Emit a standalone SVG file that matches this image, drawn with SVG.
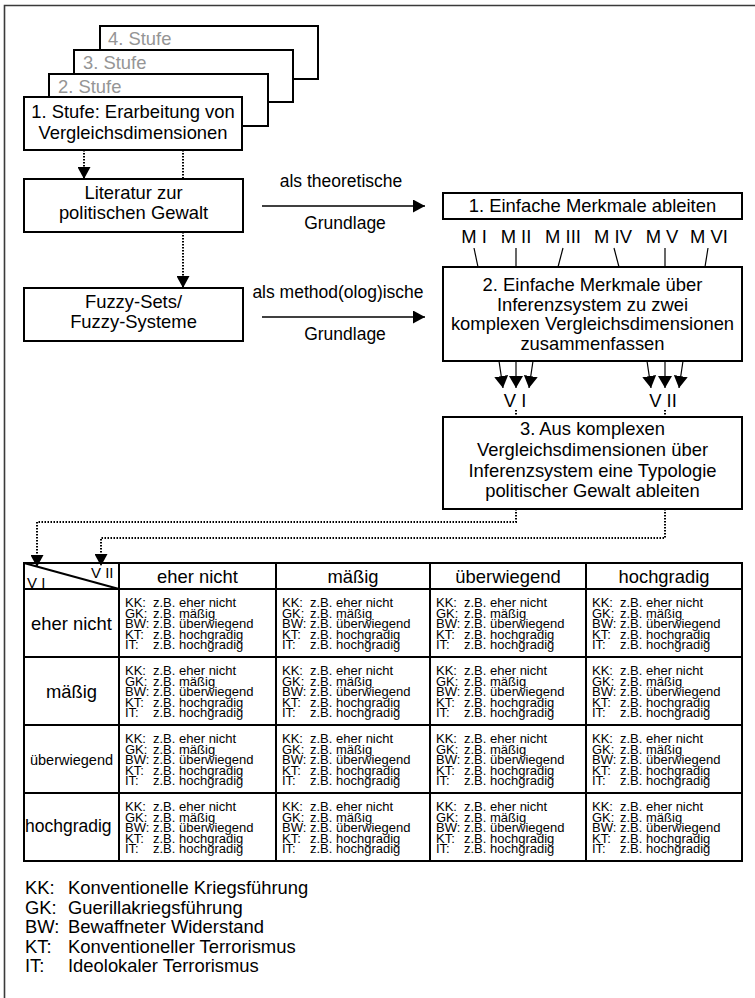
<svg xmlns="http://www.w3.org/2000/svg" width="755" height="998" viewBox="0 0 755 998">
<defs>
<marker id="ah" viewBox="0 0 12 13" refX="12" refY="6.5" markerWidth="12" markerHeight="13" markerUnits="userSpaceOnUse" orient="auto"><path d="M0,0 L12,6.5 L0,13 z" fill="#000"/></marker>
<marker id="ahv" viewBox="0 0 12 14" refX="12" refY="7" markerWidth="12" markerHeight="14" markerUnits="userSpaceOnUse" orient="auto"><path d="M0,0 L12,7 L0,14 z" fill="#000"/></marker>
<style>
text { font-family: "Liberation Sans", Arial, Helvetica, sans-serif; fill:#000; font-size:18.4px; }
.box { fill:#fff; stroke:#000; stroke-width:2; }
.c { text-anchor:middle; }
.gray { fill:#959595; }
.lbl { font-size:17.5px; text-anchor:middle; }
.dot { fill:none; stroke:#000; stroke-width:2; stroke-dasharray:1.5 1.5; }
.solid { fill:none; stroke:#000; stroke-width:1.5; }
.thin { fill:none; stroke:#000; stroke-width:1.2; }
.grid { fill:none; stroke:#000; stroke-width:2; }
.cell text { font-size:13px; }
.vv { font-size:15px; }
</style>
</defs>
<rect x="0" y="0" width="755" height="998" fill="#fff"/>
<path d="M4.5,998 L4.5,5.5 L755,5.5" fill="none" stroke="#3a3a3a" stroke-width="1.6"/>

<g id="stufe4"><rect class="box" x="100" y="26" width="218" height="53"/><text class="gray" x="108" y="45">4. Stufe</text></g>
<g id="stufe3"><rect class="box" x="74" y="50" width="219" height="52"/><text class="gray" x="83" y="69">3. Stufe</text></g>
<g id="stufe2"><rect class="box" x="49" y="74" width="219" height="52"/><text class="gray" x="58" y="93">2. Stufe</text></g>
<g id="stufe1"><rect class="box" x="24" y="97" width="218" height="53"/><text class="c" x="133" y="118">1. Stufe: Erarbeitung von</text><text class="c" x="133" y="139">Vergleichsdimensionen</text></g>

<g id="literatur"><rect class="box" x="24" y="179" width="219" height="53"/><text class="c" x="133.5" y="199">Literatur zur</text><text class="c" x="133.5" y="219">politischen Gewalt</text></g>
<g id="fuzzy"><rect class="box" x="24" y="288" width="219" height="53"/><text class="c" x="133.5" y="308">Fuzzy-Sets/</text><text class="c" x="133.5" y="328">Fuzzy-Systeme</text></g>

<g id="merkmale"><rect class="box" x="443" y="193" width="299" height="26"/><text class="c" x="592.5" y="212">1. Einfache Merkmale ableiten</text></g>
<g id="mlabels">
<text class="c" x="474" y="243">M I</text>
<text class="c" x="516" y="243">M II</text>
<text class="c" x="563" y="243">M III</text>
<text class="c" x="613" y="243">M IV</text>
<text class="c" x="662" y="243">M V</text>
<text class="c" x="709" y="243">M VI</text>
</g>
<g id="inferenz"><rect class="box" x="443" y="267" width="299" height="94"/>
<text class="c" x="592.5" y="291">2. Einfache Merkmale über</text>
<text class="c" x="592.5" y="310.5">Inferenzsystem zu zwei</text>
<text class="c" x="592.5" y="330">komplexen Vergleichsdimensionen</text>
<text class="c" x="592.5" y="349.5">zusammenfassen</text></g>
<g id="vlabels"><text class="c" x="515" y="407">V I</text><text class="c" x="663" y="407">V II</text></g>
<g id="typologie"><rect class="box" x="443" y="417" width="299" height="92"/>
<text class="c" x="592.5" y="435">3. Aus komplexen</text>
<text class="c" x="592.5" y="456">Vergleichsdimensionen über</text>
<text class="c" x="592.5" y="477">Inferenzsystem eine Typologie</text>
<text class="c" x="592.5" y="497">politischer Gewalt ableiten</text></g>

<g id="connectors">
<path class="dot" d="M84,150 L84,179" marker-end="url(#ah)"/>
<path class="dot" d="M183,150 L183,179"/>
<path class="dot" d="M183,232 L183,288" marker-end="url(#ah)"/>
<path class="solid" d="M262,206 L425,206" marker-end="url(#ah)"/>
<text class="lbl" x="341" y="187">als theoretische</text>
<text class="lbl" x="345" y="229">Grundlage</text>
<path class="solid" d="M262,317 L425,317" marker-end="url(#ah)"/>
<text class="lbl" x="338" y="298">als method(olog)ische</text>
<text class="lbl" x="345" y="340">Grundlage</text>
<path class="thin" d="M474,248 L478,267"/>
<path class="thin" d="M516,248 L516,267"/>
<path class="thin" d="M563,248 L558,267"/>
<path class="thin" d="M614,248 L619,267"/>
<path class="thin" d="M665,248 L665,267"/>
<path class="thin" d="M708,248 L705,267"/>
<path class="thin" d="M499,361 L503,388" marker-end="url(#ahv)"/>
<path class="thin" d="M516,361 L516,388" marker-end="url(#ahv)"/>
<path class="thin" d="M533,361 L529,388" marker-end="url(#ahv)"/>
<path class="thin" d="M647,361 L651,388" marker-end="url(#ahv)"/>
<path class="thin" d="M665,361 L665,388" marker-end="url(#ahv)"/>
<path class="thin" d="M683,361 L679,388" marker-end="url(#ahv)"/>
<path class="dot" d="M516,410 L516,417"/>
<path class="dot" d="M665,410 L665,417"/>
<path class="dot" d="M516,509 L516,522 L37,522 L37,567" marker-end="url(#ah)"/>
<path class="dot" d="M665,509 L665,538 L101,538 L101,566" marker-end="url(#ah)"/>
</g>

<g id="table">
<rect class="grid" x="24" y="563" width="718" height="298" stroke-width="2.5"/>
<path class="grid" d="M119,563 V861 M276,563 V861 M430,563 V861 M586,563 V861 M24,589 H742 M24,657 H742 M24,725 H742 M24,793 H742"/>
<path class="grid" d="M24,563 L119,589" stroke-width="1.8"/>
<text class="vv" x="27" y="588">V I</text>
<text class="vv" x="91" y="578">V II</text>
<text class="c" x="197.5" y="582.5">eher nicht</text>
<text class="c" x="353" y="582.5">mäßig</text>
<text class="c" x="508" y="582.5">überwiegend</text>
<text class="c" x="664" y="582.5">hochgradig</text>
<text class="c" x="71.5" y="630">eher nicht</text>
<text class="c" x="71.5" y="698">mäßig</text>
<text class="c" x="71.5" y="765" style="font-size:14.5px">überwiegend</text>
<text x="25" y="832" style="font-size:17.5px">hochgradig</text>
</g>

<g id="c11" class="cell" transform="translate(119,589)"><text x="6" y="18">KK:</text><text x="34" y="18">z.B. eher nicht</text><text x="6" y="28.5">GK:</text><text x="34" y="28.5">z.B. mäßig</text><text x="6" y="39">BW:</text><text x="34" y="39">z.B. überwiegend</text><text x="6" y="49.5">KT:</text><text x="34" y="49.5">z.B. hochgradig</text><text x="6" y="60">IT:</text><text x="34" y="60">z.B. hochgradig</text></g>
<g id="c12" class="cell" transform="translate(276,589)"><text x="6" y="18">KK:</text><text x="34" y="18">z.B. eher nicht</text><text x="6" y="28.5">GK:</text><text x="34" y="28.5">z.B. mäßig</text><text x="6" y="39">BW:</text><text x="34" y="39">z.B. überwiegend</text><text x="6" y="49.5">KT:</text><text x="34" y="49.5">z.B. hochgradig</text><text x="6" y="60">IT:</text><text x="34" y="60">z.B. hochgradig</text></g>
<g id="c13" class="cell" transform="translate(430,589)"><text x="6" y="18">KK:</text><text x="34" y="18">z.B. eher nicht</text><text x="6" y="28.5">GK:</text><text x="34" y="28.5">z.B. mäßig</text><text x="6" y="39">BW:</text><text x="34" y="39">z.B. überwiegend</text><text x="6" y="49.5">KT:</text><text x="34" y="49.5">z.B. hochgradig</text><text x="6" y="60">IT:</text><text x="34" y="60">z.B. hochgradig</text></g>
<g id="c14" class="cell" transform="translate(586,589)"><text x="6" y="18">KK:</text><text x="34" y="18">z.B. eher nicht</text><text x="6" y="28.5">GK:</text><text x="34" y="28.5">z.B. mäßig</text><text x="6" y="39">BW:</text><text x="34" y="39">z.B. überwiegend</text><text x="6" y="49.5">KT:</text><text x="34" y="49.5">z.B. hochgradig</text><text x="6" y="60">IT:</text><text x="34" y="60">z.B. hochgradig</text></g>

<g id="c21" class="cell" transform="translate(119,657)"><text x="6" y="18">KK:</text><text x="34" y="18">z.B. eher nicht</text><text x="6" y="28.5">GK:</text><text x="34" y="28.5">z.B. mäßig</text><text x="6" y="39">BW:</text><text x="34" y="39">z.B. überwiegend</text><text x="6" y="49.5">KT:</text><text x="34" y="49.5">z.B. hochgradig</text><text x="6" y="60">IT:</text><text x="34" y="60">z.B. hochgradig</text></g>
<g id="c22" class="cell" transform="translate(276,657)"><text x="6" y="18">KK:</text><text x="34" y="18">z.B. eher nicht</text><text x="6" y="28.5">GK:</text><text x="34" y="28.5">z.B. mäßig</text><text x="6" y="39">BW:</text><text x="34" y="39">z.B. überwiegend</text><text x="6" y="49.5">KT:</text><text x="34" y="49.5">z.B. hochgradig</text><text x="6" y="60">IT:</text><text x="34" y="60">z.B. hochgradig</text></g>
<g id="c23" class="cell" transform="translate(430,657)"><text x="6" y="18">KK:</text><text x="34" y="18">z.B. eher nicht</text><text x="6" y="28.5">GK:</text><text x="34" y="28.5">z.B. mäßig</text><text x="6" y="39">BW:</text><text x="34" y="39">z.B. überwiegend</text><text x="6" y="49.5">KT:</text><text x="34" y="49.5">z.B. hochgradig</text><text x="6" y="60">IT:</text><text x="34" y="60">z.B. hochgradig</text></g>
<g id="c24" class="cell" transform="translate(586,657)"><text x="6" y="18">KK:</text><text x="34" y="18">z.B. eher nicht</text><text x="6" y="28.5">GK:</text><text x="34" y="28.5">z.B. mäßig</text><text x="6" y="39">BW:</text><text x="34" y="39">z.B. überwiegend</text><text x="6" y="49.5">KT:</text><text x="34" y="49.5">z.B. hochgradig</text><text x="6" y="60">IT:</text><text x="34" y="60">z.B. hochgradig</text></g>

<g id="c31" class="cell" transform="translate(119,725)"><text x="6" y="18">KK:</text><text x="34" y="18">z.B. eher nicht</text><text x="6" y="28.5">GK:</text><text x="34" y="28.5">z.B. mäßig</text><text x="6" y="39">BW:</text><text x="34" y="39">z.B. überwiegend</text><text x="6" y="49.5">KT:</text><text x="34" y="49.5">z.B. hochgradig</text><text x="6" y="60">IT:</text><text x="34" y="60">z.B. hochgradig</text></g>
<g id="c32" class="cell" transform="translate(276,725)"><text x="6" y="18">KK:</text><text x="34" y="18">z.B. eher nicht</text><text x="6" y="28.5">GK:</text><text x="34" y="28.5">z.B. mäßig</text><text x="6" y="39">BW:</text><text x="34" y="39">z.B. überwiegend</text><text x="6" y="49.5">KT:</text><text x="34" y="49.5">z.B. hochgradig</text><text x="6" y="60">IT:</text><text x="34" y="60">z.B. hochgradig</text></g>
<g id="c33" class="cell" transform="translate(430,725)"><text x="6" y="18">KK:</text><text x="34" y="18">z.B. eher nicht</text><text x="6" y="28.5">GK:</text><text x="34" y="28.5">z.B. mäßig</text><text x="6" y="39">BW:</text><text x="34" y="39">z.B. überwiegend</text><text x="6" y="49.5">KT:</text><text x="34" y="49.5">z.B. hochgradig</text><text x="6" y="60">IT:</text><text x="34" y="60">z.B. hochgradig</text></g>
<g id="c34" class="cell" transform="translate(586,725)"><text x="6" y="18">KK:</text><text x="34" y="18">z.B. eher nicht</text><text x="6" y="28.5">GK:</text><text x="34" y="28.5">z.B. mäßig</text><text x="6" y="39">BW:</text><text x="34" y="39">z.B. überwiegend</text><text x="6" y="49.5">KT:</text><text x="34" y="49.5">z.B. hochgradig</text><text x="6" y="60">IT:</text><text x="34" y="60">z.B. hochgradig</text></g>

<g id="c41" class="cell" transform="translate(119,793)"><text x="6" y="18">KK:</text><text x="34" y="18">z.B. eher nicht</text><text x="6" y="28.5">GK:</text><text x="34" y="28.5">z.B. mäßig</text><text x="6" y="39">BW:</text><text x="34" y="39">z.B. überwiegend</text><text x="6" y="49.5">KT:</text><text x="34" y="49.5">z.B. hochgradig</text><text x="6" y="60">IT:</text><text x="34" y="60">z.B. hochgradig</text></g>
<g id="c42" class="cell" transform="translate(276,793)"><text x="6" y="18">KK:</text><text x="34" y="18">z.B. eher nicht</text><text x="6" y="28.5">GK:</text><text x="34" y="28.5">z.B. mäßig</text><text x="6" y="39">BW:</text><text x="34" y="39">z.B. überwiegend</text><text x="6" y="49.5">KT:</text><text x="34" y="49.5">z.B. hochgradig</text><text x="6" y="60">IT:</text><text x="34" y="60">z.B. hochgradig</text></g>
<g id="c43" class="cell" transform="translate(430,793)"><text x="6" y="18">KK:</text><text x="34" y="18">z.B. eher nicht</text><text x="6" y="28.5">GK:</text><text x="34" y="28.5">z.B. mäßig</text><text x="6" y="39">BW:</text><text x="34" y="39">z.B. überwiegend</text><text x="6" y="49.5">KT:</text><text x="34" y="49.5">z.B. hochgradig</text><text x="6" y="60">IT:</text><text x="34" y="60">z.B. hochgradig</text></g>
<g id="c44" class="cell" transform="translate(586,793)"><text x="6" y="18">KK:</text><text x="34" y="18">z.B. eher nicht</text><text x="6" y="28.5">GK:</text><text x="34" y="28.5">z.B. mäßig</text><text x="6" y="39">BW:</text><text x="34" y="39">z.B. überwiegend</text><text x="6" y="49.5">KT:</text><text x="34" y="49.5">z.B. hochgradig</text><text x="6" y="60">IT:</text><text x="34" y="60">z.B. hochgradig</text></g>

<g id="legend">
<text x="25" y="894">KK:</text><text x="68" y="894">Konventionelle Kriegsführung</text>
<text x="25" y="913.5">GK:</text><text x="68" y="913.5">Guerillakriegsführung</text>
<text x="25" y="933">BW:</text><text x="68" y="933">Bewaffneter Widerstand</text>
<text x="25" y="952.5">KT:</text><text x="68" y="952.5">Konventioneller Terrorismus</text>
<text x="25" y="972">IT:</text><text x="68" y="972">Ideolokaler Terrorismus</text>
</g>
</svg>
